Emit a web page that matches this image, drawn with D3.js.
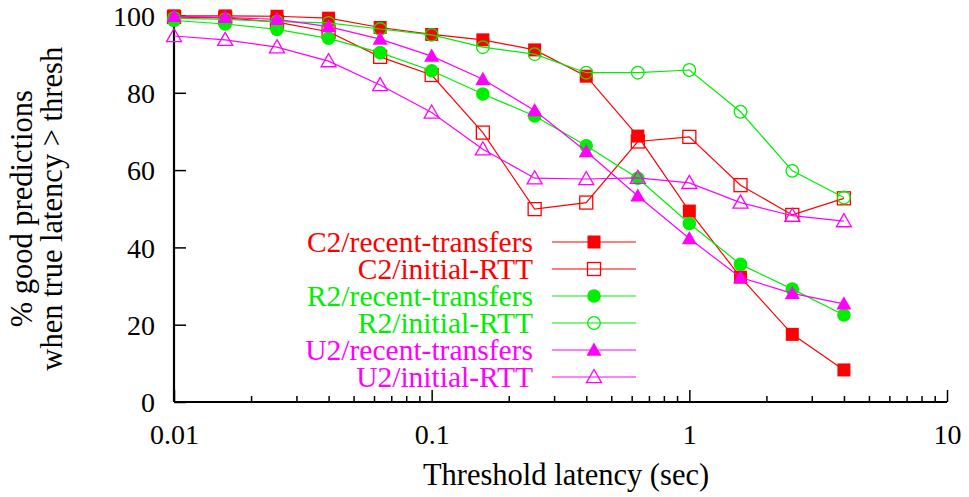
<!DOCTYPE html>
<html>
<head>
<meta charset="utf-8">
<script src="https://cdn.jsdelivr.net/npm/d3@7"></script>
<style>
  html, body { margin: 0; padding: 0; background: #fff; }
  svg { display: block; }
  text { font-family: "Liberation Serif", "Times New Roman", serif; }
</style>
</head>
<body>
<svg id="chart" width="969" height="497"></svg>
<script>
// Threshold latencies (sec), one fifth of a decade apart
const thresholds = [0.01, 0.0158, 0.0251, 0.0398, 0.0631, 0.1, 0.158, 0.251, 0.398, 0.631, 1, 1.58, 2.51, 3.98];

// % good predictions when true latency > threshold
const c2Recent  = [99.9, 99.9, 99.8, 99.3, 96.9, 95.1, 93.7, 91.1, 84.3, 68.8, 49.4, 32.3, 17.5, 8.3];
const c2Initial = [99.6, 99.4, 98.3, 95.8, 89.3, 84.6, 69.7, 49.9, 51.6, 67.4, 68.6, 56.1, 48.4, 52.7];
const r2Recent  = [98.7, 97.8, 96.4, 94.1, 90.4, 85.7, 79.7, 74.0, 66.3, 57.9, 46.2, 35.6, 29.2, 22.5];
const r2Initial = [99.3, 99.0, 98.4, 98.1, 96.5, 95.0, 91.8, 90.0, 85.2, 85.2, 85.9, 75.1, 59.8, 52.9];
const u2Recent  = [99.8, 99.5, 99.0, 97.1, 93.9, 89.5, 83.5, 75.4, 64.8, 53.3, 42.3, 32.2, 28.1, 25.4];
const u2Initial = [94.7, 93.7, 91.8, 88.2, 82.0, 74.9, 65.4, 57.9, 57.7, 58.0, 56.7, 51.6, 48.2, 46.8];

const seriesNames = ["C2/recent-transfers", "C2/initial-RTT", "R2/recent-transfers", "R2/initial-RTT", "U2/recent-transfers", "U2/initial-RTT"];
const seriesValues = [c2Recent, c2Initial, r2Recent, r2Initial, u2Recent, u2Initial];
const seriesColors = ["#ff0000", "#ff0000", "#00ee00", "#00ee00", "#ff00ff", "#ff00ff"];
const seriesSymbols = ["squareFilled", "squareOpen", "circleFilled", "circleOpen", "triangleFilled", "triangleOpen"];

const xTicks = [0.01, 0.1, 1, 10];
const xTickLabels = ["0.01", "0.1", "1", "10"];
const yTicks = [0, 20, 40, 60, 80, 100];

const xLabel = "Threshold latency (sec)";
const yLabelLines = ["% good predictions", "when true latency > thresh"];

const svg = d3.select("#chart");
const plot = { left: 174, right: 947, top: 15.5, bottom: 402 };

const x = d3.scaleLog().domain([0.01, 10]).range([plot.left, plot.right]);
const y = d3.scaleLinear().domain([0, 100]).range([plot.bottom, plot.top]);

const tickFont = 28;
const labelFont = 30.5;
const legendFont = 29.5;

// Minor ticks on the log axis
const minorTicks = [];
for (let d = 0.01; d < 10; d *= 10) {
  for (let k = 2; k <= 9; k++) minorTicks.push(+(d * k).toPrecision(3));
}

const axes = svg.append("g");

// x axis: ticks point inward (up)
const xAxis = d3.axisBottom(x).tickValues(xTicks).tickSize(-12).tickFormat((d, i) => xTickLabels[i]).tickPadding(0);
const gx = axes.append("g").attr("transform", `translate(0,${plot.bottom})`).call(xAxis);
gx.select(".domain").remove();
gx.selectAll(".tick line").attr("stroke", "#000").attr("stroke-width", 1.5);
gx.selectAll(".tick text")
  .attr("y", 42).attr("dy", null)
  .attr("font-size", tickFont).attr("font-family", "Liberation Serif, Times New Roman, serif")
  .attr("fill", "#000");

axes.append("g").selectAll("line").data(minorTicks).join("line")
  .attr("x1", d => x(d)).attr("x2", d => x(d))
  .attr("y1", plot.bottom).attr("y2", plot.bottom - 6)
  .attr("stroke", "#000").attr("stroke-width", 1.5);

// y axis: ticks point inward (right)
const yAxis = d3.axisLeft(y).tickValues(yTicks).tickSize(-12).tickFormat(d3.format("d")).tickPadding(0);
const gy = axes.append("g").attr("transform", `translate(${plot.left},0)`).call(yAxis);
gy.select(".domain").remove();
gy.selectAll(".tick line").attr("stroke", "#000").attr("stroke-width", 1.5);
gy.selectAll(".tick text")
  .attr("x", -19).attr("dy", "0.35em")
  .attr("font-size", tickFont).attr("font-family", "Liberation Serif, Times New Roman, serif")
  .attr("fill", "#000");

// Border lines (left and bottom only)
axes.append("line")
  .attr("x1", plot.left).attr("x2", plot.left)
  .attr("y1", plot.top).attr("y2", plot.bottom)
  .attr("stroke", "#000").attr("stroke-width", 2.2);
axes.append("line")
  .attr("x1", plot.left).attr("x2", plot.right)
  .attr("y1", plot.bottom).attr("y2", plot.bottom)
  .attr("stroke", "#000").attr("stroke-width", 2.2);

// Axis labels
svg.append("text")
  .attr("x", 566).attr("y", 485)
  .attr("text-anchor", "middle").attr("font-size", labelFont)
  .text(xLabel);

const yLab = svg.append("text")
  .attr("transform", `translate(32,${(plot.top + plot.bottom) / 2}) rotate(-90)`)
  .attr("text-anchor", "middle").attr("font-size", labelFont);
yLabelLines.forEach((t, i) => {
  yLab.append("tspan").attr("x", 0).attr("dy", i === 0 ? 0 : 30).text(t);
});

// Point symbols
const markSize = 13;
function drawSymbol(g, kind, color, cx, cy) {
  const h = markSize / 2;
  if (kind === "squareFilled" || kind === "squareOpen") {
    g.append("rect")
      .attr("x", cx - h).attr("y", cy - h).attr("width", markSize).attr("height", markSize)
      .attr("fill", kind === "squareFilled" ? color : "none")
      .attr("stroke", color).attr("stroke-width", kind === "squareFilled" ? 0 : 1.3);
  } else if (kind === "circleFilled" || kind === "circleOpen") {
    g.append("circle")
      .attr("cx", cx).attr("cy", cy).attr("r", kind === "circleFilled" ? 6.8 : 6.3)
      .attr("fill", kind === "circleFilled" ? color : "none")
      .attr("stroke", color).attr("stroke-width", kind === "circleFilled" ? 0 : 1.3);
  } else {
    const s = 7.5;
    const pts = [[cx, cy - s], [cx + s, cy + s * 0.75], [cx - s, cy + s * 0.75]];
    g.append("polygon")
      .attr("points", pts.map(p => p.join(",")).join(" "))
      .attr("fill", kind === "triangleFilled" ? color : "none")
      .attr("stroke", color).attr("stroke-width", kind === "triangleFilled" ? 0 : 1.3);
  }
}

// Series lines and points
const line = d3.line().x(d => x(d[0])).y(d => y(d[1]));
const seriesLayer = svg.append("g");
seriesValues.forEach((vals, i) => {
  const pts = thresholds.map((t, j) => [t, vals[j]]);
  const g = seriesLayer.append("g");
  g.append("path")
    .attr("d", line(pts))
    .attr("fill", "none").attr("stroke", seriesColors[i]).attr("stroke-width", 1.2);
  pts.forEach(p => drawSymbol(g, seriesSymbols[i], seriesColors[i], x(p[0]), y(p[1])));
});

// Legend
const legend = svg.append("g");
const legendTextRight = 533, legendLine = [552, 636], legendTop = 242, legendStep = 27;
seriesNames.forEach((name, i) => {
  const cy = legendTop + i * legendStep;
  legend.append("text")
    .attr("x", legendTextRight).attr("y", cy).attr("dy", "0.35em")
    .attr("text-anchor", "end").attr("font-size", legendFont)
    .attr("fill", seriesColors[i]).text(name);
  legend.append("line")
    .attr("x1", legendLine[0]).attr("x2", legendLine[1]).attr("y1", cy).attr("y2", cy)
    .attr("stroke", seriesColors[i]).attr("stroke-width", 1.2);
  drawSymbol(legend, seriesSymbols[i], seriesColors[i], (legendLine[0] + legendLine[1]) / 2, cy);
});
</script>
</body>
</html>
